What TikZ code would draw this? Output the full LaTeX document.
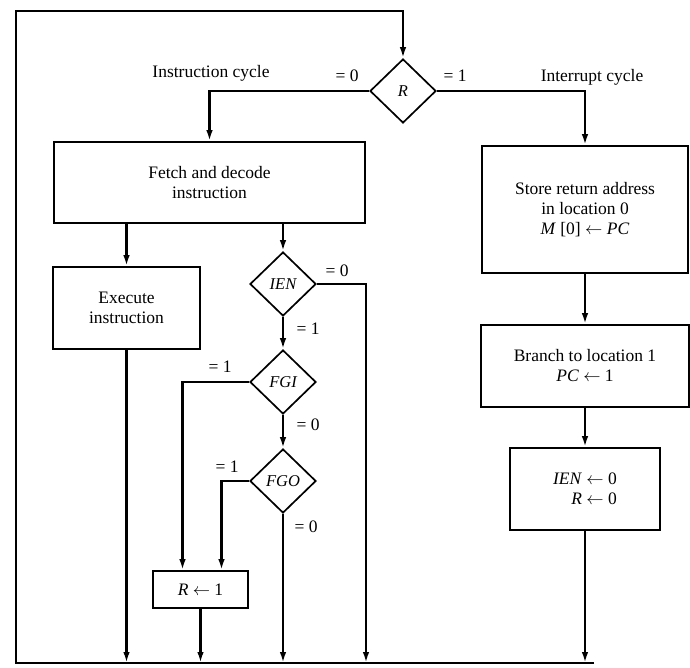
\documentclass[tikz,border=0pt]{standalone}
\usepackage{fontspec}
\setmainfont{Liberation Serif}
\usetikzlibrary{shapes.geometric, arrows.meta}

\begin{document}
\begin{tikzpicture}[x=1pt, y=-1pt, >={Latex[length=11pt,width=6.5pt]},
    every node/.style={font=\fontsize{17.5}{20}\selectfont},
    box/.style={draw, line width=1.7pt, inner sep=0pt, align=center},
    test/.style={draw, diamond, line width=1.7pt, inner sep=0pt,
        minimum width=66pt, minimum height=64pt, font=\fontsize{16.5}{20}\selectfont\itshape},
    flow/.style={->, line width=2.3pt},
    lbl/.style={inner sep=1pt}]
    \useasboundingbox (0,0) rectangle (690,668);

    % Decisions
    \node[test] (R) at (403,91) {R};
    \node[test] (ien) at (283,284) {IEN};
    \node[test] (fgi) at (283,382) {FGI};
    \node[test] (fgo) at (283,481) {FGO};

    % Boxes
    \node[box, minimum width=311pt, minimum height=81pt] (fetch) at (209.5,182.5) {Fetch and decode\\instruction};
    \node[box, minimum width=147pt, minimum height=82pt] (exec) at (126.5,308) {Execute\\instruction};
    \node[box, minimum width=95pt, minimum height=37pt] (rset) at (200.5,589.5) {\textit{R} $\leftarrow$ 1};
    \node[box, minimum width=206pt, minimum height=127pt] (store) at (585,209.5) {Store return address\\in location 0\\\textit{M} [0] $\leftarrow$ \textit{PC}};
    \node[box, minimum width=208pt, minimum height=82pt] (branch) at (585,366) {Branch to location 1\\\textit{PC} $\leftarrow$ 1};
    \node[box, minimum width=150pt, minimum height=82pt, align=right] (clear) at (585,489) {\textit{IEN} $\leftarrow$ 0\\\textit{R} $\leftarrow$ 0};

    % Labels
    \node[lbl] (lblinst) at (211,73) {Instruction cycle};
    \node[lbl] (lblint) at (592,77) {Interrupt cycle};
    \node[lbl] (lblrz) at (347,76) {= 0};
    \node[lbl] (lblro) at (455,76) {= 1};
    \node[lbl] (lbliz) at (337,271) {= 0};
    \node[lbl] (lblio) at (308,329) {= 1};
    \node[lbl] (lblgio) at (220,367) {= 1};
    \node[lbl] (lblgiz) at (308,425) {= 0};
    \node[lbl] (lblgoo) at (227,467) {= 1};
    \node[lbl] (lblgoz) at (306,527) {= 0};

    % Loop back to R
    \coordinate (bl) at (16,663);
    \coordinate (tl) at (16,11);
    \coordinate (br) at (594,663);
    \coordinate (ienout) at (366,663);
    \draw[flow] (br) -- (bl) -- (tl) -| (R.north);

    % Instruction cycle
    \draw[flow] (R.west) -| (fetch.north);
    \draw[flow] (exec.north |- fetch.south) -- (exec.north);
    \draw[flow] (ien.north |- fetch.south) -- (ien.north);
    \draw[flow] (ien.south) -- (fgi.north);
    \draw[flow] (fgi.south) -- (fgo.north);
    \draw[flow] (ien.east) -| (ienout);
    \draw[flow] (fgi.west) -| ([xshift=-18pt]rset.north);
    \draw[flow] (fgo.west) -| ([xshift=21pt]rset.north);
    \draw[flow] (exec.south) -- (exec.south |- bl);
    \draw[flow] (rset.south) -- (rset.south |- bl);
    \draw[flow] (fgo.south) -- (fgo.south |- bl);

    % Interrupt cycle
    \draw[flow] (R.east) -| (store.north);
    \draw[flow] (store.south) -- (branch.north);
    \draw[flow] (branch.south) -- (clear.north);
    \draw[flow] (clear.south) -- (clear.south |- bl);
\end{tikzpicture}
\end{document}
